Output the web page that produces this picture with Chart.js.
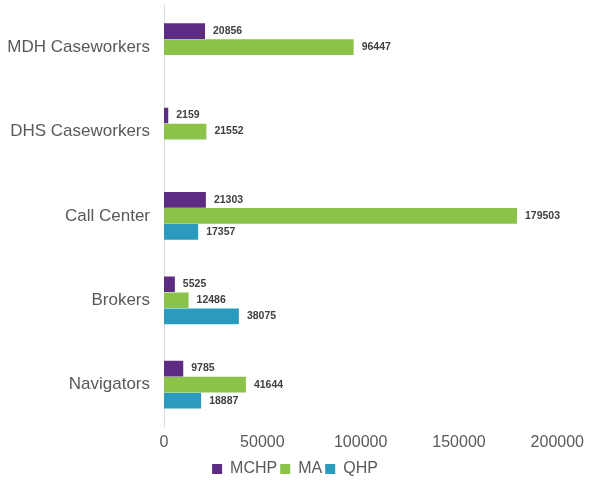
<!DOCTYPE html>
<html>
<head>
<meta charset="utf-8">
<script src="https://cdn.jsdelivr.net/npm/chart.js@4"></script>
<style>
  html, body { margin: 0; padding: 0; background: #fff; }
  #wrap { width: 590px; height: 487px; }
</style>
</head>
<body>
<div id="wrap"><canvas id="chart"></canvas></div>
<script>
const categories = ["MDH Caseworkers", "DHS Caseworkers", "Call Center", "Brokers", "Navigators"];
const mchp = [20856, 2159, 21303, 5525, 9785];
const ma = [96447, 21552, 179503, 12486, 41644];
const qhp = [null, null, 17357, 38075, 18887];
const xTicks = [0, 50000, 100000, 150000, 200000];

// simple value labels to the right of each bar
const valueLabels = {
  id: "valueLabels",
  afterDatasetsDraw(chart) {
    const ctx = chart.ctx;
    ctx.save();
    ctx.font = "bold 10.5px 'Liberation Sans', Arial, sans-serif";
    ctx.fillStyle = "#404040";
    ctx.textBaseline = "middle";
    chart.data.datasets.forEach((ds, i) => {
      chart.getDatasetMeta(i).data.forEach((bar, j) => {
        if (ds.data[j] == null) return;
        ctx.fillText(ds.data[j], bar.x + 8, bar.y);
      });
    });
    ctx.restore();
  },
};

new Chart(document.getElementById("chart"), {
  type: "bar",
  data: {
    labels: categories,
    datasets: [
      { label: "MCHP", data: mchp, backgroundColor: "#5E2B83" },
      { label: "MA", data: ma, backgroundColor: "#8BC34A" },
      { label: "QHP", data: qhp, backgroundColor: "#2A9BBD" },
    ],
  },
  options: {
    indexAxis: "y",
    animation: false,
    responsive: true,
    maintainAspectRatio: false,
    layout: { padding: { top: 5, right: 0, left: 0, bottom: 0 } },
    datasets: {
      bar: { barPercentage: 0.98, categoryPercentage: 0.57 },
    },
    plugins: {
      legend: {
        position: "bottom",
        labels: {
          boxWidth: 10,
          boxHeight: 10,
          padding: 3,
          color: "#595959",
          font: { family: "'Liberation Sans', Arial, sans-serif", size: 16 },
        },
      },
      tooltip: { enabled: false },
    },
    scales: {
      x: {
        type: "linear",
        min: 0,
        max: 200000,
        afterBuildTicks: (axis) => { axis.ticks = xTicks.map((v) => ({ value: v })); },
        grid: { display: false, drawTicks: false },
        border: { display: false },
        ticks: {
          padding: 6,
          color: "#595959",
          callback: (v) => String(v),
          font: { family: "'Liberation Sans', Arial, sans-serif", size: 16 },
        },
      },
      y: {
        grid: { display: false, drawTicks: false },
        border: { display: true, color: "#D9D9D9" },
        afterFit: (scale) => {
          scale.width = 164;
          scale.paddingTop = 0;
          scale.paddingBottom = 0;
        },
        ticks: {
          padding: 14,
          color: "#595959",
          font: { family: "'Liberation Sans', Arial, sans-serif", size: 17 },
        },
      },
    },
  },
  plugins: [valueLabels],
});
</script>
</body>
</html>
